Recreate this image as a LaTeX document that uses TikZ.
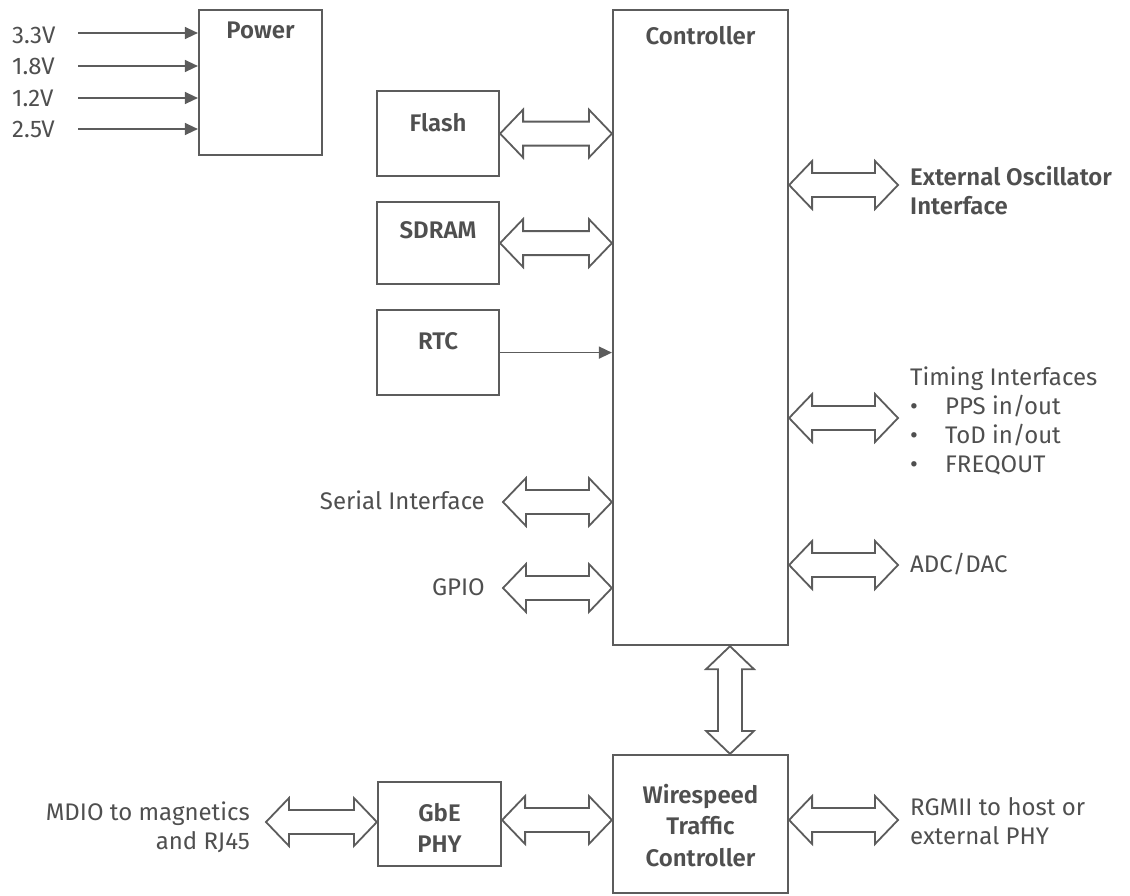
\documentclass[tikz,border=0pt]{standalone}
\usepackage{fontspec}
\setmainfont{Fira Sans}[BoldFont={Fira Sans SemiBold}]
\usetikzlibrary{calc,arrows.meta}
\definecolor{ink}{HTML}{5C5C5C}
\definecolor{txt}{HTML}{4F4F4F}
\newcommand\diafont{\fontsize{24}{29}\selectfont}
\tikzset{
  box/.style={draw=ink, line width=2.2pt, inner sep=0pt, font=\diafont\bfseries},
  lbl/.style={inner sep=0pt},
  bus/.style={draw=ink, line width=1.8pt, line join=miter, fill=white},
  feed/.style={draw=ink, line width=1.4pt, -{Triangle[length=13pt,width=12pt]}},
}
\newcommand\busarrow[2]{%
  \path ($(#1)!23pt!(#2)$) coordinate (busA) ($(#2)!23pt!(#1)$) coordinate (busB);
  \draw[bus] (#1) -- ($(busA)!24pt!90:(#2)$) -- ($(busA)!12pt!90:(#2)$)
    -- ($(busB)!12pt!90:(#2)$) -- ($(busB)!24pt!90:(#2)$) -- (#2)
    -- ($(busB)!24pt!-90:(#2)$) -- ($(busB)!12pt!-90:(#2)$)
    -- ($(busA)!12pt!-90:(#2)$) -- ($(busA)!24pt!-90:(#2)$) -- cycle;}
\begin{document}
\begin{tikzpicture}[x=1pt,y=-1pt,font=\diafont,text=txt]
\useasboundingbox (0,0) rectangle (1130,895);
% boxes
\node[box, anchor=north, minimum width=123pt, text height=28pt, text depth=117pt] (power) at (260.5,9) {Power};
\node[box, anchor=north, minimum width=175pt, text height=34pt, text depth=601pt] (ctrl) at (700.5,9) {Controller};
\node[box, anchor=north, minimum width=122pt, text height=40pt, text depth=45pt] (flash) at (438,90) {Flash};
\node[box, anchor=north, minimum width=122pt, text height=36pt, text depth=46pt] (sdram) at (438,201) {SDRAM};
\node[box, anchor=north, minimum width=122pt, text height=39pt, text depth=46pt] (rtc) at (438,309) {RTC};
\node[box, align=center, minimum width=123pt, minimum height=84pt] (gbe) at (439.5,824) {\rule{0pt}{26pt}GbE\\[2pt]PHY};
\node[box, align=center, minimum width=175pt, minimum height=138pt] (wire) at (700.5,824) {\rule{0pt}{22pt}Wirespeed\\[2.5pt]Traffic\\[2.5pt]Controller};
% voltage inputs
\node[lbl, anchor=base west] (v33) at (12,43) {3.3V};
\node[lbl, anchor=base west] (v18) at (12,74) {1.8V};
\node[lbl, anchor=base west] (v12) at (12,106) {1.2V};
\node[lbl, anchor=base west] (v25) at (12,137) {2.5V};
\coordinate (c33) at (78,33);
\coordinate (c18) at (78,66);
\coordinate (c12) at (78,98);
\coordinate (c25) at (78,129);
\draw[feed] (c33) -- (c33 -| power.west);
\draw[feed] (c18) -- (c18 -| power.west);
\draw[feed] (c12) -- (c12 -| power.west);
\draw[feed] (c25) -- (c25 -| power.west);
% left side
\coordinate (flA) at (flash.east);
\coordinate (flB) at (flash.east -| ctrl.west);
\busarrow{flA}{flB}
\coordinate (sdA) at (sdram.east);
\coordinate (sdB) at (sdram.east -| ctrl.west);
\busarrow{sdA}{sdB}
\draw[feed] (rtc.east) -- (rtc.east -| ctrl.west);
\node[lbl, anchor=base east] (serial) at (485,509) {Serial Interface};
\coordinate (seA) at (503,502);
\coordinate (seB) at (seA -| ctrl.west);
\busarrow{seA}{seB}
\node[lbl, anchor=base east] (gpio) at (485,595) {GPIO};
\coordinate (gpA) at (503,588);
\coordinate (gpB) at (gpA -| ctrl.west);
\busarrow{gpA}{gpB}
% right side
\coordinate (eoA) at (ctrl.east |- 0,185);
\coordinate (eoB) at (898,185);
\busarrow{eoA}{eoB}
\node[lbl, anchor=north west, align=left, font=\diafont\bfseries] (eosc) at (910,166) {External Oscillator\\Interface};
\coordinate (tiA) at (ctrl.east |- 0,418);
\coordinate (tiB) at (898,418);
\busarrow{tiA}{tiB}
\node[lbl, anchor=north west, align=left] (timing) at (910,367) {Timing Interfaces\\\makebox[35pt][l]{•}PPS in/out\\\makebox[35pt][l]{•}ToD in/out\\\makebox[35pt][l]{•}FREQOUT};
\coordinate (adA) at (ctrl.east |- 0,565);
\coordinate (adB) at (898,565);
\busarrow{adA}{adB}
\node[lbl, anchor=base west] (adc) at (910,572) {ADC/DAC};
% bottom
\coordinate (vA) at (ctrl.south -| 730,0);
\coordinate (vB) at (wire.north -| 730,0);
\busarrow{vA}{vB}
\coordinate (rgA) at (wire.east |- 0,820);
\coordinate (rgB) at (898,820);
\busarrow{rgA}{rgB}
\node[lbl, anchor=north west, align=left] (rgmii) at (910,797) {RGMII to host or\\external PHY};
\coordinate (gwA) at (gbe.east |- 0,820);
\coordinate (gwB) at (wire.west |- 0,820);
\busarrow{gwA}{gwB}
\coordinate (mdA) at (266,822);
\coordinate (mdB) at (gbe.west |- 0,822);
\busarrow{mdA}{mdB}
\node[lbl, anchor=north east, align=right] (mdio) at (250,802) {MDIO to magnetics\\and RJ45};
\end{tikzpicture}
\end{document}
